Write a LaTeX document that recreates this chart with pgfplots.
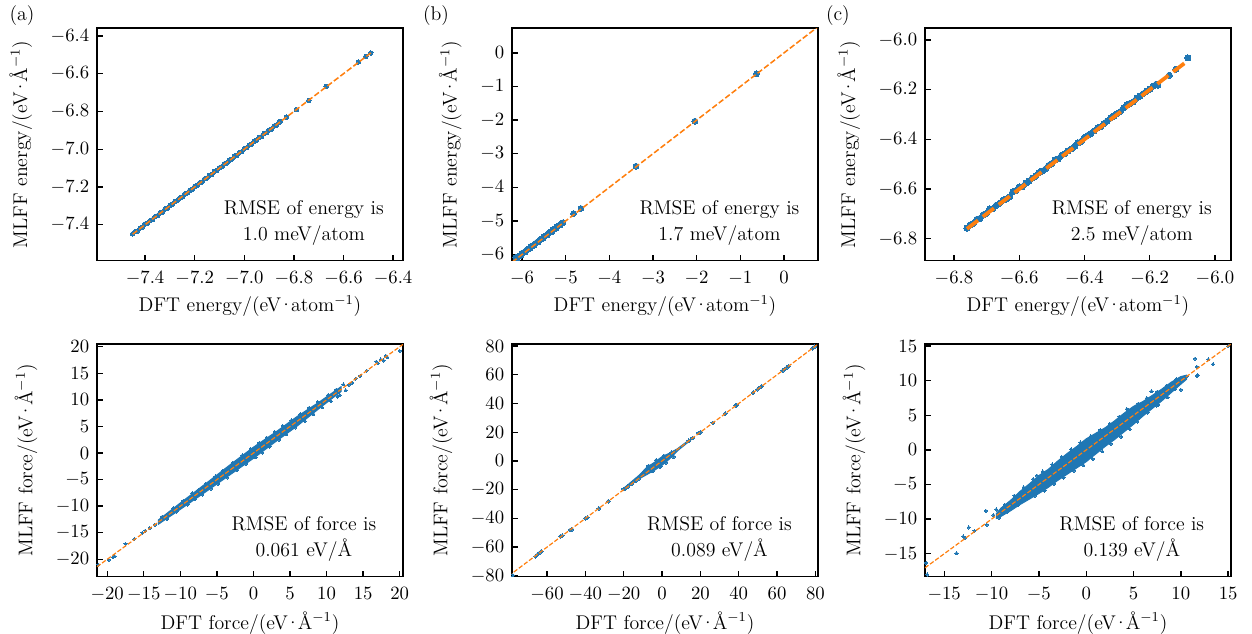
\documentclass[border=0pt]{standalone}
\usepackage{pgfplots}
\pgfplotsset{compat=1.18}
\definecolor{mblue}{RGB}{31,119,180}
\definecolor{morange}{RGB}{255,127,14}
\newcommand{\cd}{\kern-1.5pt·\kern-1.5pt}
\newcommand{\lbl}{\fontsize{11.6}{13.5}\selectfont}
\tikzset{rmse/.style={align=center, anchor=south, inner sep=0pt, font=\lbl}}

\pgfplotsset{
  panel/.style={
    scale only axis, width=179pt, height=136pt, anchor=north west,
    tick align=inside, xtick pos=bottom, ytick pos=left,
    major tick length=3.5pt,
    axis line style={line width=0.8pt, black},
    every tick/.style={line width=0.8pt, black},
    font=\fontsize{11}{13}\selectfont,
    xticklabel style={yshift=-3pt}, yticklabel shift=1pt,
    xlabel style={font=\lbl}, ylabel style={font=\lbl},
    xlabel shift=-1pt, ylabel shift=4pt,
    clip marker paths=true,
  },
  energy/.style={panel,
    xlabel={DFT energy/(eV\cd atom$^{-1}$)},
    ylabel={MLFF energy/(eV\cd Å$^{-1}$)}},
  force/.style={panel,
    xlabel={DFT force/(eV\cd Å$^{-1}$)},
    ylabel={MLFF force/(eV\cd Å$^{-1}$)}},
  onedec/.style={
    xticklabel style={/pgf/number format/.cd, fixed, fixed zerofill, precision=1},
    yticklabel style={/pgf/number format/.cd, fixed, fixed zerofill, precision=1}},
  pts/.style={only marks, mark=*, mark size=#1, color=mblue,
    mark options={draw=mblue, fill=mblue, line width=0pt}},
  core/.style={fill=mblue, draw=mblue, line width=0.6pt, no marks},
  diag/.style={no marks, color=morange, line width=#1,
    dash pattern=on 3.7*#1 off 1.6*#1},
}

\begin{document}
\begin{tikzpicture}
\path[use as bounding box] (0,0) rectangle (732.2pt,-370.2pt);
\node[font=\lbl] at (12.9pt,-8.8pt) {(a)};
\node[font=\lbl] at (255pt,-8.8pt) {(b)};
\node[font=\lbl] at (490pt,-8.8pt) {(c)};

% (a)
\begin{axis}[energy, onedec, at={(56.7pt,-16.4pt)},
  xmin=-7.594, xmax=-6.36, ymin=-7.59, ymax=-6.358,
  xtick={-7.4,-7.2,-7.0,-6.8,-6.6,-6.4}, ytick={-7.4,-7.2,-7.0,-6.8,-6.6,-6.4}]
\addplot[pts=1.3pt] table {
-7.450 -7.448
-7.440 -7.437
-7.430 -7.433
-7.420 -7.418
-7.410 -7.412
-7.400 -7.396
-7.390 -7.392
-7.380 -7.379
-7.370 -7.373
-7.360 -7.357
-7.350 -7.352
-7.340 -7.338
-7.330 -7.333
-7.320 -7.317
-7.310 -7.312
-7.300 -7.298
-7.290 -7.293
-7.280 -7.277
-7.270 -7.272
-7.260 -7.258
-7.250 -7.253
-7.240 -7.237
-7.230 -7.232
-7.220 -7.218
-7.210 -7.213
-7.200 -7.197
-7.190 -7.192
-7.180 -7.178
-7.170 -7.173
-7.160 -7.157
-7.150 -7.152
-7.140 -7.138
-7.130 -7.133
-7.120 -7.117
-7.110 -7.112
-7.100 -7.098
-7.090 -7.093
-7.080 -7.077
-7.070 -7.072
-7.060 -7.058
-7.050 -7.053
-7.040 -7.037
-7.030 -7.032
-7.020 -7.018
-7.010 -7.013
-7.000 -6.997
-6.990 -6.992
-6.980 -6.978
-6.970 -6.973
-6.960 -6.957
-6.950 -6.952
-6.940 -6.938
-6.930 -6.933
-6.920 -6.917
-6.910 -6.912
-6.900 -6.898
-6.890 -6.893
-6.880 -6.877
-6.870 -6.872
-6.860 -6.857
-6.855 -6.853
-6.830 -6.830
-6.790 -6.790
-6.740 -6.742
-6.670 -6.668
-6.540 -6.538
-6.510 -6.508
-6.490 -6.490
};
\addplot[diag=0.9pt] coordinates {(-7.45,-7.45) (-6.49,-6.49)};
\node[rmse] at (rel axis cs:0.676,0.065) {RMSE of energy is\\[1.5pt]1.0 meV/atom};
\end{axis}

% (b)
\begin{axis}[energy, at={(299.4pt,-16.4pt)},
  xmin=-6.23, xmax=0.78, ymin=-6.18, ymax=0.74,
  xtick={-6,-5,-4,-3,-2,-1,0}, ytick={-6,-5,-4,-3,-2,-1,0}]
\addplot[pts=1.7pt] table {
-6.14 -6.10
-6.12 -6.12
-6.10 -6.07
-6.05 -6.03
-6.02 -6.02
-6.00 -5.96
-5.95 -5.93
-5.92 -5.92
-5.90 -5.87
-5.85 -5.83
-5.82 -5.82
-5.80 -5.76
-5.75 -5.74
-5.72 -5.72
-5.70 -5.67
-5.65 -5.63
-5.62 -5.62
-5.60 -5.57
-5.55 -5.53
-5.52 -5.52
-5.50 -5.47
-5.45 -5.43
-5.42 -5.42
-5.40 -5.37
-5.35 -5.33
-5.32 -5.32
-5.30 -5.27
-5.25 -5.23
-5.22 -5.22
-5.20 -5.17
-5.15 -5.13
-5.12 -5.12
-5.10 -5.08
-5.06 -5.05
-4.82 -4.78
-4.65 -4.63
-3.39 -3.37
-2.04 -2.03
-0.63 -0.62
};
\addplot[diag=0.9pt] coordinates {(-6.23,-6.23) (0.78,0.78)};
\node[rmse] at (rel axis cs:0.678,0.065) {RMSE of energy is\\[1.5pt]1.7 meV/atom};
\end{axis}

% (c)
\begin{axis}[energy, onedec, at={(540.9pt,-16.4pt)},
  xmin=-6.889, xmax=-5.951, ymin=-6.888, ymax=-5.952,
  xtick={-6.8,-6.6,-6.4,-6.2,-6.0}, ytick={-6.8,-6.6,-6.4,-6.2,-6.0}]
\addplot[pts=1.8pt] table {
-6.760 -6.757
-6.750 -6.744
-6.740 -6.738
-6.730 -6.722
-6.720 -6.718
-6.710 -6.703
-6.700 -6.698
-6.690 -6.680
-6.680 -6.678
-6.670 -6.665
-6.660 -6.657
-6.650 -6.645
-6.640 -6.640
-6.630 -6.632
-6.620 -6.612
-6.610 -6.606
-6.600 -6.592
-6.590 -6.590
-6.580 -6.576
-6.570 -6.568
-6.560 -6.556
-6.550 -6.548
-6.540 -6.534
-6.530 -6.528
-6.520 -6.520
-6.510 -6.505
-6.500 -6.497
-6.490 -6.482
-6.480 -6.478
-6.470 -6.464
-6.460 -6.458
-6.450 -6.446
-6.440 -6.438
-6.430 -6.428
-6.420 -6.414
-6.410 -6.408
-6.400 -6.392
-6.390 -6.384
-6.380 -6.376
-6.370 -6.366
-6.360 -6.354
-6.350 -6.349
-6.340 -6.336
-6.330 -6.326
-6.320 -6.314
-6.310 -6.306
-6.300 -6.296
-6.290 -6.288
-6.280 -6.274
-6.270 -6.262
-6.260 -6.255
-6.250 -6.248
-6.240 -6.234
-6.230 -6.226
-6.220 -6.216
-6.210 -6.206
-6.200 -6.198
-6.190 -6.186
-6.180 -6.178
-6.175 -6.182
-6.140 -6.142
-6.120 -6.118
-6.083 -6.072
};
\addplot[diag=2.2pt] coordinates {(-6.76,-6.76) (-6.08,-6.08)};
\node[rmse] at (rel axis cs:0.676,0.065) {RMSE of energy is\\[1.5pt]2.5 meV/atom};
\end{axis}

% (d)
\begin{axis}[force, at={(56.7pt,-201.2pt)},
  xmin=-21.4, xmax=20.45, ymin=-23.25, ymax=20.5,
  xtick={-20,-15,...,20}, ytick={-20,-15,...,20}]
\addplot[core] coordinates {
(-13,-12.6) (-10,-9.4) (-6,-5.2) (-3,-2.0) (0,1.1) (3,3.9) (6,6.9) (9,9.6) (12,12.5)
(12,11.6) (9,8.4) (6,5.1) (3,2.1) (0,-1.0) (-3,-3.9) (-6,-6.8) (-10,-10.6) (-13,-13.4)
} -- cycle;
\addplot[pts=0.9pt] table {
-12.5 -12.0
-11.8 -12.4
-11.0 -10.4
-10.5 -11.0
-9.6 -9.0
-9.0 -9.7
-8.4 -7.6
-8.0 -8.7
-7.5 -6.9
-7.0 -7.8
-6.5 -5.8
-5.8 -6.7
-5.2 -4.4
-4.8 -5.8
-4.2 -3.3
-3.6 -4.6
-2.8 -1.8
-2.2 -3.2
-1.5 -0.4
-1.0 -2.0
-0.4 0.8
0.3 -0.8
0.8 1.9
1.2 0.1
1.8 2.9
2.2 1.2
2.9 4.0
3.5 2.5
4.0 5.1
4.5 3.5
5.2 6.2
5.7 4.8
6.4 7.3
7.0 6.0
7.6 8.5
8.2 7.3
8.8 9.6
9.4 8.6
10.2 10.9
10.6 9.7
11.3 11.9
11.5 10.6
11.8 10.9
12.3 12.9
12.6 11.8
13.0 12.8
13.5 13.2
14.0 14.0
14.6 14.5
15.5 15.5
16.8 17.2
17.0 16.9
17.4 17.6
17.8 17.4
18.1 18.3
18.3 18.0
20.0 19.2
-13.5 -13.5
-14.2 -14.1
-14.8 -14.6
-15.2 -15.0
-16.3 -16.2
-17.5 -17.1
-19.0 -19.4
-19.2 -19.6
-19.8 -20.1
-21.2 -21.0
-21.7 -21.1
-21.9 -21.6
};
\addplot[diag=0.7pt] coordinates {(-21.4,-21.4) (20.45,20.45)};
\node[rmse] at (rel axis cs:0.676,0.065) {RMSE of force is\\[1.5pt]0.061 eV/Å};
\end{axis}

% (e)
\begin{axis}[force, at={(299.4pt,-201.2pt)},
  xmin=-78.3, xmax=81.4, ymin=-80.5, ymax=81.4,
  xtick={-60,-40,...,80}, ytick={-80,-60,...,80}]
\addplot[core] coordinates {
(-20,-19) (-12,-10) (-8,-4.5) (-4,-1) (0,3) (4,5.5) (8,8.5) (12,12.5) (15,15.3)
(15,14.6) (12,11.3) (8,7) (4,1.5) (0,-3) (-4,-6.5) (-8,-9.5) (-12,-12.5) (-20,-20.3)
} -- cycle;
\addplot[pts=1.1pt] table {
-78.0 -79.5
-66.0 -66.5
-65.0 -65.2
-64.0 -64.0
-63.0 -62.8
-53.0 -52.5
-52.0 -52.0
-48.0 -48.0
-47.0 -47.5
-40.0 -40.0
-39.0 -39.5
-33.0 -33.0
-28.0 -28.0
-20.0 -19.5
-19.0 -19.0
-18.0 -18.0
-16.0 -16.0
-14.0 -14.0
-12.0 -12.0
-9.0 -7.0
-7.0 -3.5
-5.0 -7.0
-3.0 0.5
-1.0 -4.0
1.0 3.5
2.0 -1.0
5.0 6.0
6.0 3.0
14.0 14.0
16.0 16.0
19.0 19.5
20.0 20.0
26.5 26.5
33.0 33.0
38.5 38.5
39.0 39.0
47.5 47.5
50.0 50.0
51.5 51.5
52.0 52.0
63.0 63.0
64.0 64.0
65.0 65.0
66.0 66.0
78.5 78.5
79.5 79.5
};
\addplot[diag=0.7pt] coordinates {(-80,-80) (81.4,81.4)};
\node[rmse] at (rel axis cs:0.678,0.065) {RMSE of force is\\[1.5pt]0.089 eV/Å};
\end{axis}

% (f)
\begin{axis}[force, at={(540.9pt,-201.2pt)},
  xmin=-17.04, xmax=15.3, ymin=-18.3, ymax=15.3,
  xtick={-15,-10,...,15}, ytick={-15,-10,...,15}]
\addplot[core] coordinates {
(-9.5,-9.2) (-9,-8.4) (-8,-7.3) (-7,-6.0) (-6,-4.9) (-5,-3.7) (-4,-2.8) (-3,-1.6)
(-2,-0.5) (-1,0.5) (0,1.6) (1,2.4) (2,3.2) (3,4.2) (4,5.3) (5,6.3) (6,7.0) (7,7.9)
(8,8.8) (9,9.8) (10,10.6) (10.6,10.8)
(10.6,10.2) (10,9.5) (9,8.3) (8,7.1) (7,6.0) (6,4.9) (5,3.7) (4,2.6) (3,1.5) (2,0.5)
(1,-0.6) (0,-1.7) (-1,-2.6) (-2,-3.5) (-3,-4.4) (-4,-5.4) (-5,-6.3) (-6,-7.1)
(-7,-7.9) (-8,-8.8) (-9,-9.6) (-9.5,-9.9)
} -- cycle;
\addplot[pts=0.9pt] table {
-9.8 -9.4
-9.2 -9.8
-8.6 -7.9
-8.3 -8.9
-7.6 -6.6
-7.2 -7.9
-6.6 -5.4
-6.3 -7.0
-5.6 -4.2
-5.4 -6.6
-4.6 -3.1
-4.4 -5.9
-3.6 -2.1
-3.4 -4.9
-2.6 -1.0
-2.4 -4.0
-1.6 0.1
-1.3 -3.0
-0.6 1.1
-0.3 -2.2
0.5 2.0
0.7 -1.3
1.5 2.9
1.7 -0.2
2.5 3.8
2.6 0.9
3.5 4.8
3.7 1.9
4.5 5.8
4.6 3.0
5.5 6.7
5.4 4.1
6.4 7.5
6.5 5.4
7.5 8.4
7.4 6.4
8.5 9.3
8.6 7.6
9.5 10.2
9.4 8.8
-16.9 -16.3
-16.8 -18.0
-13.7 -14.9
-13.0 -12.5
-12.8 -12.7
-12.4 -11.2
-11.8 -11.7
-10.6 -8.8
-10.5 -10.8
-9.5 -8.6
-5.2 -3.7
6.9 8.5
4.3 5.9
10.0 8.7
11.7 10.7
11.5 13.2
11.7 12.0
12.9 13.1
13.4 12.4
15.0 15.0
11.8 10.8
10.6 10.6
7.6 6.5
};
\addplot[diag=0.7pt] coordinates {(-17.04,-17.04) (15.3,15.3)};
\node[rmse] at (rel axis cs:0.676,0.065) {RMSE of force is\\[1.5pt]0.139 eV/Å};
\end{axis}
\end{tikzpicture}
\end{document}
